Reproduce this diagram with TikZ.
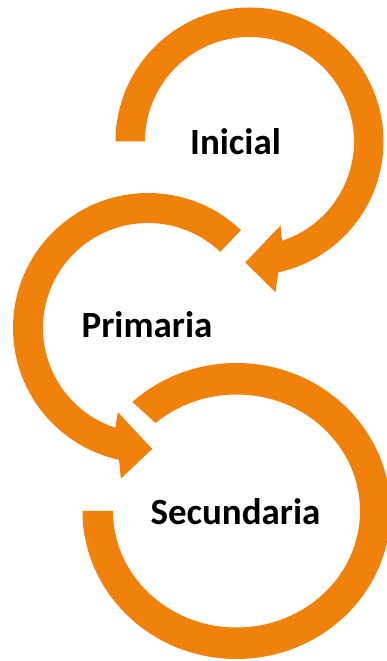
\documentclass[tikz,border=0pt]{standalone}
\usepackage{fontspec}
\setmainfont{Carlito}
\begin{document}
\begin{tikzpicture}[x=1pt,y=1pt,
  arr/.style={fill=orangeA},
  lbl/.style={font=\fontsize{37}{40}\selectfont\bfseries, text=black, anchor=base, inner sep=0pt}]
\definecolor{orangeA}{RGB}{240,130,12}
\useasboundingbox (0,0) rectangle (387,661);
\coordinate (c1) at (249.5,519.5);
\coordinate (c2) at (148,333);
\coordinate (c3) at (236.5,150);
% arrow 1 (Inicial), clockwise
\fill[arr] ([shift={(c1)}]180:134) arc[start angle=180,end angle=-77.6,radius=134]
  -- ([shift={(c1)}]-80.2:153) -- ([shift={(c1)}]-92:121)
  -- ([shift={(c1)}]-69.7:89.5) -- ([shift={(c1)}]-71.9:104.5)
  arc[start angle=-71.9,end angle=180,radius=104.5] -- cycle;
% arrow 2 (Primaria), counter-clockwise
\fill[arr] ([shift={(c2)}]46.5:135) arc[start angle=46.5,end angle=257.6,radius=135]
  -- ([shift={(c2)}]259.8:153) -- ([shift={(c2)}]272:121)
  -- ([shift={(c2)}]250.3:89.5) -- ([shift={(c2)}]251.9:105)
  arc[start angle=251.9,end angle=46.5,radius=105] -- cycle;
% arc 3 (Secundaria)
\fill[arr] ([shift={(c3)}]132.5:154 and 148) arc[start angle=132.5,end angle=-180,x radius=154,y radius=148]
  -- ([shift={(c3)}]-180:123.5 and 116.5)
  arc[start angle=-180,end angle=131,x radius=123.5,y radius=116.5] -- cycle;
\node[lbl] (t1) at (235.5,506) {Inicial};
\node[lbl] (t2) at (147,323) {Primaria};
\node[lbl] (t3) at (235.5,136) {Secundaria};
\end{tikzpicture}
\end{document}
